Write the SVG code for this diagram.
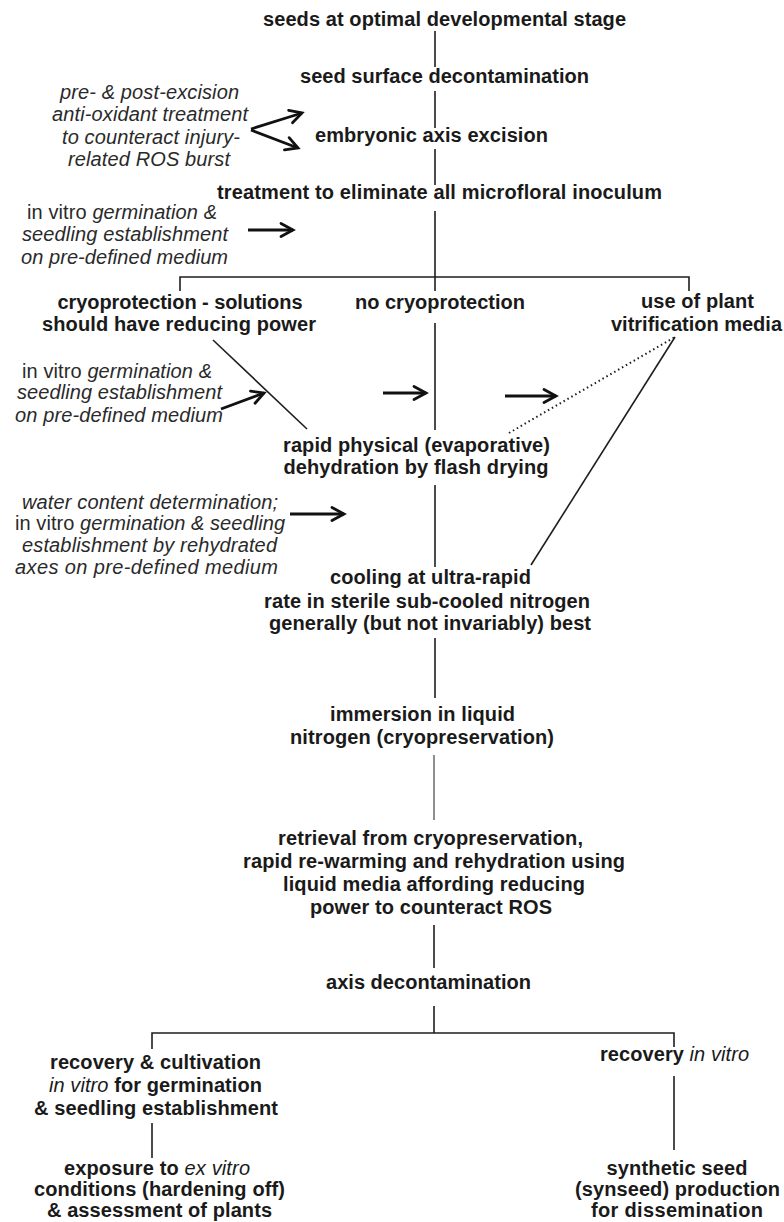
<svg xmlns="http://www.w3.org/2000/svg" width="784" height="1222" viewBox="0 0 784 1222">
<style>
.n{font-family:"Liberation Sans",Arial,sans-serif;font-weight:bold;font-size:20px;fill:#1a1a1a;text-anchor:middle}
.t{font-family:"Liberation Sans",Arial,sans-serif;font-style:italic;font-size:20px;fill:#2a2a2a;text-anchor:middle}
.up{font-style:normal}
.it{font-style:italic;font-weight:normal}
.ln{stroke:#1e1e1e;stroke-width:1.6;fill:none}
.thin{stroke:#444;stroke-width:1.2;fill:none}
.ar{stroke:#111;stroke-width:2.8;fill:none;marker-end:url(#ah)}
.dot{stroke:#1e1e1e;stroke-width:2;fill:none;stroke-dasharray:1.5 3}
</style>
<defs>
<marker id="ah" markerUnits="userSpaceOnUse" markerWidth="18" markerHeight="18" viewBox="0 0 18 18" refX="14" refY="9" orient="auto">
<path d="M2,2.5 L14,9 L2,15.5" fill="none" stroke="#111" stroke-width="2.8" stroke-linecap="round"/>
</marker>
</defs>
<rect width="784" height="1222" fill="#ffffff"/>

<g id="connectors">
<line class="ln" x1="435" y1="31" x2="435" y2="67"/>
<line class="ln" x1="435" y1="91" x2="435" y2="128"/>
<line class="ln" x1="435" y1="149" x2="435" y2="185"/>
<line class="ln" x1="435" y1="211" x2="435" y2="291"/>
<polyline class="ln" points="180,291 180,277 689,277 689,291"/>
<line class="ln" x1="435" y1="323" x2="435" y2="430"/>
<line class="ln" x1="213" y1="340" x2="307" y2="429"/>
<line class="dot" x1="509" y1="433" x2="675" y2="337"/>
<line class="ln" x1="675" y1="337" x2="531" y2="565"/>
<line class="ln" x1="435" y1="485" x2="435" y2="567"/>
<line class="ln" x1="435" y1="638" x2="435" y2="698"/>
<line class="thin" x1="434" y1="755" x2="434" y2="820"/>
<line class="ln" x1="434" y1="925" x2="434" y2="968"/>
<line class="ln" x1="434" y1="1006" x2="434" y2="1033"/>
<polyline class="ln" points="152,1049 152,1033 674,1033 674,1047"/>
<line class="ln" x1="152" y1="1123" x2="152" y2="1158"/>
<line class="ln" x1="674" y1="1076" x2="674" y2="1150"/>
<line class="ar" x1="251" y1="129" x2="302" y2="113"/>
<line class="ar" x1="251" y1="130" x2="298" y2="148"/>
<line class="ar" x1="248" y1="230" x2="293" y2="230"/>
<line class="ar" x1="221" y1="409" x2="264" y2="393"/>
<line class="ar" x1="383" y1="393" x2="426" y2="393"/>
<line class="ar" x1="505" y1="396" x2="556" y2="396"/>
<line class="ar" x1="290" y1="514" x2="344" y2="514"/>
</g>

<g id="n-seeds"><text class="n" x="444.5" y="26" textLength="363">seeds at optimal developmental stage</text></g>
<g id="n-surface"><text class="n" x="444.5" y="83" textLength="289">seed surface decontamination</text></g>
<g id="n-excision"><text class="n" x="431.5" y="142" textLength="233">embryonic axis excision</text></g>
<g id="n-treatment"><text class="n" x="439.5" y="199" textLength="445">treatment to eliminate all microfloral inoculum</text></g>
<g id="n-cryoprot">
<text class="n" x="180" y="309" textLength="245">cryoprotection - solutions</text>
<text class="n" x="179" y="331" textLength="274">should have reducing power</text>
</g>
<g id="n-nocryo"><text class="n" x="440" y="309" textLength="170">no cryoprotection</text></g>
<g id="n-vitri">
<text class="n" x="697.5" y="308" textLength="113">use of plant</text>
<text class="n" x="696.5" y="331" textLength="171">vitrification media</text>
</g>
<g id="n-rapid">
<text class="n" x="416.5" y="452" textLength="267">rapid physical (evaporative)</text>
<text class="n" x="416" y="474" textLength="265">dehydration by flash drying</text>
</g>
<g id="n-cooling">
<text class="n" x="430.5" y="584" textLength="201">cooling at ultra-rapid</text>
<text class="n" x="427" y="608" textLength="326">rate in sterile sub-cooled nitrogen</text>
<text class="n" x="430" y="630" textLength="322">generally (but not invariably) best</text>
</g>
<g id="n-immersion">
<text class="n" x="422.5" y="721" textLength="185">immersion in liquid</text>
<text class="n" x="422" y="744" textLength="264">nitrogen (cryopreservation)</text>
</g>
<g id="n-retrieval">
<text class="n" x="430.5" y="845" textLength="305">retrieval from cryopreservation,</text>
<text class="n" x="434" y="868" textLength="382">rapid re-warming and rehydration using</text>
<text class="n" x="434" y="891" textLength="302">liquid media affording reducing</text>
<text class="n" x="431" y="914" textLength="242">power to counteract ROS</text>
</g>
<g id="n-axisdecon"><text class="n" x="428.5" y="989" textLength="205">axis decontamination</text></g>
<g id="n-recovery-cult">
<text class="n" x="155.5" y="1069" textLength="211">recovery &amp; cultivation</text>
<text class="n" x="155.5" y="1092" textLength="213"><tspan class="it">in vitro</tspan> for germination</text>
<text class="n" x="156" y="1115" textLength="244">&amp; seedling establishment</text>
</g>
<g id="n-exposure">
<text class="n" x="157" y="1175" textLength="186">exposure to <tspan class="it">ex vitro</tspan></text>
<text class="n" x="159.5" y="1196" textLength="251">conditions (hardening off)</text>
<text class="n" x="159.5" y="1217" textLength="225">&amp; assessment of plants</text>
</g>
<g id="n-recovery-invitro"><text class="n" x="674.5" y="1061" textLength="149">recovery <tspan class="it">in vitro</tspan></text></g>
<g id="n-synseed">
<text class="n" x="677" y="1175" textLength="141">synthetic seed</text>
<text class="n" x="677.5" y="1196" textLength="205">(synseed) production</text>
<text class="n" x="677" y="1217" textLength="172">for dissemination</text>
</g>

<g id="note-antioxidant">
<text class="t" x="149.5" y="99" textLength="179">pre- &amp; post-excision</text>
<text class="t" x="150" y="121" textLength="196">anti-oxidant treatment</text>
<text class="t" x="151" y="144" textLength="178">to counteract injury-</text>
<text class="t" x="149" y="166" textLength="162">related ROS burst</text>
</g>
<g id="note-germ1">
<text class="t" x="122" y="219" textLength="190"><tspan class="up">in vitro</tspan> germination &amp;</text>
<text class="t" x="125" y="241" textLength="206">seedling establishment</text>
<text class="t" x="124.5" y="264" textLength="207">on pre-defined medium</text>
</g>
<g id="note-germ2">
<text class="t" x="117" y="378" textLength="190"><tspan class="up">in vitro</tspan> germination &amp;</text>
<text class="t" x="119.5" y="399" textLength="205">seedling establishment</text>
<text class="t" x="119" y="422" textLength="208">on pre-defined medium</text>
</g>
<g id="note-water">
<text class="t" x="150" y="509" textLength="256">water content determination;</text>
<text class="t" x="150" y="530" textLength="270"><tspan class="up">in vitro</tspan> germination &amp; seedling</text>
<text class="t" x="149.5" y="552" textLength="255">establishment by rehydrated</text>
<text class="t" x="146.5" y="574" textLength="263">axes on pre-defined medium</text>
</g>
</svg>
